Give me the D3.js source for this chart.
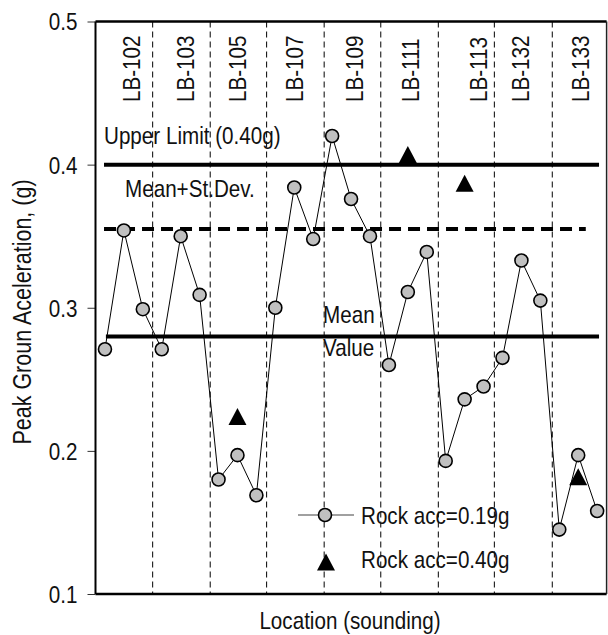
<!DOCTYPE html>
<html>
<head>
<meta charset="utf-8">
<script src="https://cdn.jsdelivr.net/npm/d3@7"></script>
<style>
  body { margin: 0; background: #fff; }
  svg text { font-family: 'Liberation Sans', Arial, sans-serif; fill: #111; }
</style>
</head>
<body>
<div id="chart"></div>
<script>
// Soundings (3 readings per location), peak ground acceleration for rock acc = 0.19g
const soundings = ['LB-102', 'LB-103', 'LB-105', 'LB-107', 'LB-109', 'LB-111', 'LB-113', 'LB-132', 'LB-133'];
const soundingLabelAt = [2.42, 5.28, 8.05, 11.02, 14.19, 17.16, 20.74, 22.99, 26.17];
const soundingBreaks = [3.52, 6.56, 9.54, 12.58, 15.57, 18.61, 21.57, 24.63];
const rock019 = [0.271, 0.354, 0.299, 0.271, 0.350, 0.309, 0.180, 0.197, 0.169,
                 0.300, 0.384, 0.348, 0.420, 0.376, 0.350, 0.260, 0.311, 0.339,
                 0.193, 0.236, 0.245, 0.265, 0.333, 0.305, 0.145, 0.197, 0.158];
// rock acc = 0.40g, only a few locations
const rock040Index = [8, 17, 20, 26];
const rock040 = [0.224, 0.407, 0.387, 0.182];
// reference lines
const upperLimit = 0.40;
const meanPlusSd = 0.355;
const meanValue = 0.28;
const yTicks = [0.1, 0.2, 0.3, 0.4, 0.5];

const config = {
    width: 608, height: 635,
    left: 95.5, right: 606.6, top: 21.5, bottom: 594,
    pointFill: '#c0c0c0',
    fontSize: 24,
    squeeze: 0.86   // the original uses a narrow face
};

const svg = d3.select('#chart').append('svg')
    .attr('width', config.width)
    .attr('height', config.height);

// Place a text with a narrow look: translate, optional rotate, then squeeze along the text
function narrowText(sel, tx, ty, rot) {
    sel.attr('x', 0).attr('y', 0)
        .attr('font-size', sel.attr('font-size') || config.fontSize)
        .attr('transform', (d, i) => {
            const px = typeof tx === 'function' ? tx(d, i) : tx;
            const py = typeof ty === 'function' ? ty(d, i) : ty;
            return `translate(${px},${py})` + (rot ? ` rotate(${rot})` : '') + ` scale(${config.squeeze},1)`;
        });
    return sel;
}

// Scales: x runs over reading index, y over acceleration
const x = d3.scaleLinear().domain([0.5, 27.5]).range([config.left, config.right]);
const y = d3.scaleLinear().domain([0.1, 0.5]).range([config.bottom, config.top]);

// Vertical dashed separators between soundings
svg.selectAll('.sep')
    .data(soundingBreaks)
    .join('line')
    .attr('class', 'sep')
    .attr('x1', d => x(d)).attr('x2', d => x(d))
    .attr('y1', y(0.5)).attr('y2', y(0.1))
    .attr('stroke', '#000')
    .attr('stroke-width', 1)
    .attr('stroke-dasharray', '6,4');

// Sounding labels (rotated)
svg.selectAll('.slabel')
    .data(soundings)
    .join('text')
    .attr('class', 'slabel')
    .text(d => d)
    .call(narrowText, (d, i) => x(soundingLabelAt[i]) + 8, 102, -90);

// Reference lines
const refLines = [
    {v: upperLimit, from: 0.95, to: 27.1, dash: null},
    {v: meanPlusSd, from: 0.95, to: 26.4, dash: '12,7'},
    {v: meanValue, from: 1.05, to: 27.1, dash: null}
];
svg.selectAll('.ref')
    .data(refLines)
    .join('line')
    .attr('class', 'ref')
    .attr('x1', d => x(d.from)).attr('x2', d => x(d.to))
    .attr('y1', d => y(d.v)).attr('y2', d => y(d.v))
    .attr('stroke', '#000')
    .attr('stroke-width', 4)
    .attr('stroke-dasharray', d => d.dash);

// Reference line captions
const captions = [
    {t: 'Upper Limit (0.40g)', x: 104, y: y(upperLimit) - 21},
    {t: 'Mean+St.Dev.', x: 125, y: y(upperLimit) + 32},
    {t: 'Mean', x: 323, y: y(meanValue) - 13},
    {t: 'Value', x: 323, y: y(meanValue) + 20}
];
svg.selectAll('.cap')
    .data(captions)
    .join('text')
    .attr('class', 'cap')
    .text(d => d.t)
    .call(narrowText, d => d.x, d => d.y);

// Series line + markers
const line = d3.line().x((d, i) => x(i + 1)).y(d => y(d));
svg.append('path')
    .datum(rock019)
    .attr('d', line)
    .attr('fill', 'none')
    .attr('stroke', '#000')
    .attr('stroke-width', 1);

svg.selectAll('.pt')
    .data(rock019)
    .join('circle')
    .attr('class', 'pt')
    .attr('cx', (d, i) => x(i + 1))
    .attr('cy', d => y(d))
    .attr('r', 6.5)
    .attr('fill', config.pointFill)
    .attr('stroke', '#000')
    .attr('stroke-width', 1.6);

// Triangles, centred on their bounding box
const tri = (cx, cy) => `M${cx},${cy - 8.5}L${cx + 9},${cy + 8.5}L${cx - 9},${cy + 8.5}Z`;
svg.selectAll('.tri')
    .data(rock040)
    .join('path')
    .attr('class', 'tri')
    .attr('d', (d, i) => tri(x(rock040Index[i]), y(d)))
    .attr('fill', '#000');

// Axes frame
const yAxis = d3.axisLeft(y).tickValues(yTicks).tickFormat(d3.format('.1f')).tickSize(8).tickPadding(10);
const gy = svg.append('g')
    .attr('transform', `translate(${config.left},0)`)
    .call(yAxis);
gy.select('.domain').remove();
gy.selectAll('.tick line').attr('stroke', '#333');
gy.selectAll('.tick text')
    .attr('font-family', null)
    .attr('fill', '#111')
    .attr('dy', '0.35em')
    .call(narrowText, -18, 0);

svg.append('line')
    .attr('x1', config.left).attr('x2', config.left)
    .attr('y1', config.top).attr('y2', config.bottom)
    .attr('stroke', '#000').attr('stroke-width', 2);
svg.append('line')
    .attr('x1', config.left).attr('x2', config.right)
    .attr('y1', config.top).attr('y2', config.top)
    .attr('stroke', '#000').attr('stroke-width', 2.5);
svg.append('line')
    .attr('x1', config.left).attr('x2', config.right)
    .attr('y1', config.bottom).attr('y2', config.bottom)
    .attr('stroke', '#000').attr('stroke-width', 2.5);
svg.append('line')
    .attr('x1', config.right).attr('x2', config.right)
    .attr('y1', config.top).attr('y2', config.bottom)
    .attr('stroke', '#222').attr('stroke-width', 1.5);

// Axis titles
svg.append('text')
    .attr('text-anchor', 'middle')
    .text('Location (sounding)')
    .call(narrowText, 350, 629);
svg.append('text')
    .attr('text-anchor', 'middle')
    .attr('font-size', 25)
    .text('Peak Groun Aceleration, (g)')
    .call(narrowText, 31, 312, -90);

// Legend
const legend = svg.append('g').attr('transform', 'translate(298,515)');
legend.append('line')
    .attr('x1', 0).attr('x2', 56).attr('y1', 0).attr('y2', 0)
    .attr('stroke', '#808080').attr('stroke-width', 1.5);
legend.append('circle')
    .attr('cx', 27).attr('cy', 0).attr('r', 6.5)
    .attr('fill', config.pointFill).attr('stroke', '#000').attr('stroke-width', 1.6);
legend.append('text')
    .text('Rock acc=0.19g')
    .call(narrowText, 63, 8.5);
legend.append('path')
    .attr('d', tri(28, 47))
    .attr('fill', '#000');
legend.append('text')
    .text('Rock acc=0.40g')
    .call(narrowText, 63, 52.5);
</script>
</body>
</html>
